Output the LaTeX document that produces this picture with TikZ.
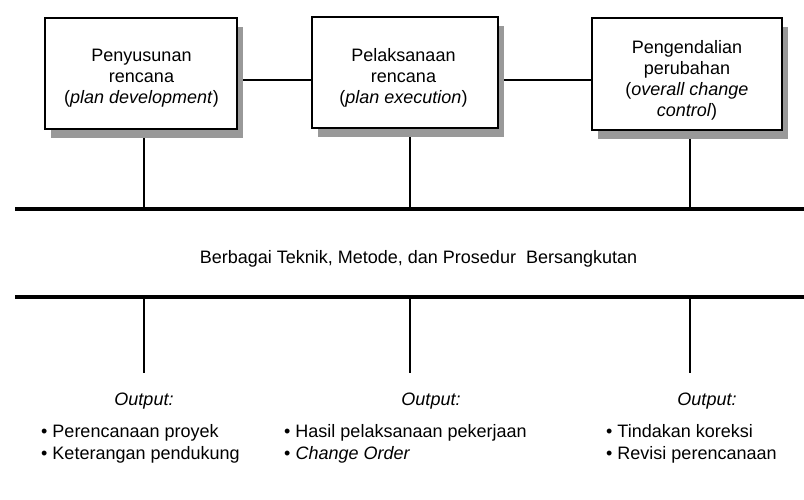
\documentclass[tikz,border=0pt]{standalone}
\usepackage{fontspec}
\setmainfont{Liberation Sans}
\usetikzlibrary{shadows,backgrounds}
\begin{document}
\begin{tikzpicture}[x=1pt,y=-1pt,
  procbox/.style={draw=black, line width=1.8pt, fill=white, inner sep=0pt,
    drop shadow={shadow xshift=6pt, shadow yshift=-9pt, fill=black!40, opacity=1}},
  boxtext/.style={align=center, inner sep=0pt, font=\fontsize{18}{21}\selectfont},
  txt/.style={inner sep=0pt, font=\fontsize{18}{22}\selectfont},
  thin/.style={line width=1.3pt},
  thick/.style={line width=4.3pt}]
\useasboundingbox (0,0) rectangle (804,500);
% boxes
\node[procbox, minimum width=192pt, minimum height=111pt] (b1) at (141,73.5) {};
\node[procbox, minimum width=186pt, minimum height=111pt] (b2) at (405,72.5) {};
\node[procbox, minimum width=190pt, minimum height=112pt] (b3) at (687,74) {};
\node[boxtext] (t1) at (141.5,78.4) {Penyusunan\\rencana\\(\textit{plan development})};
\node[boxtext] (t2) at (403.5,77.6) {Pelaksanaan\\rencana\\(\textit{plan execution})};
\node[boxtext, font=\fontsize{18}{21.3}\selectfont] (t3) at (687,80.3) {Pengendalian\\perubahan\\(\textit{overall change}\\\textit{control})};
% coordinates on the bars
\coordinate (u1) at (144,209);
\coordinate (u2) at (410,209);
\coordinate (u3) at (690,209);
\coordinate (l1) at (144,297);
\coordinate (l2) at (410,297);
\coordinate (l3) at (690,297);
\coordinate (e1) at (144,373);
\coordinate (e2) at (410,373);
\coordinate (e3) at (690,373);
\coordinate (barAL) at (15,209);
\coordinate (barAR) at (804,209);
\coordinate (barBL) at (15,297);
\coordinate (barBR) at (804,297);
\begin{scope}[on background layer]
\draw[thin] ([yshift=-6.5pt]b1.east) -- ([yshift=-7.5pt]b2.west);
\draw[thin] ([yshift=-7.5pt]b2.east) -- ([yshift=-6pt]b3.west);
\draw[thin] (b1.south -| u1) -- (u1);
\draw[thin] (b2.south -| u2) -- (u2);
\draw[thin] (b3.south -| u3) -- (u3);
\end{scope}
\draw[thick] (barAL) -- (barAR);
\draw[thick] (barBL) -- (barBR);
\draw[thin] (l1) -- (e1);
\draw[thin] (l2) -- (e2);
\draw[thin] (l3) -- (e3);
\node[txt, anchor=base] (mid) at (418.5,263) {Berbagai Teknik, Metode, dan Prosedur\ \ Bersangkutan};
% outputs
\node[txt, anchor=base] (o1) at (144,405) {\textit{Output:}};
\node[txt, anchor=base] (o2) at (431,405) {\textit{Output:}};
\node[txt, anchor=base] (o3) at (707,405) {\textit{Output:}};
\node[txt, anchor=base west] (p1a) at (41,437) {• Perencanaan proyek};
\node[txt, anchor=base west] (p1b) at (41,459) {• Keterangan pendukung};
\node[txt, anchor=base west] (p2a) at (284,437) {• Hasil pelaksanaan pekerjaan};
\node[txt, anchor=base west] (p2b) at (284,459) {• \textit{Change Order}};
\node[txt, anchor=base west] (p3a) at (606,437) {• Tindakan koreksi};
\node[txt, anchor=base west] (p3b) at (606,459) {• Revisi perencanaan};
\end{tikzpicture}
\end{document}
